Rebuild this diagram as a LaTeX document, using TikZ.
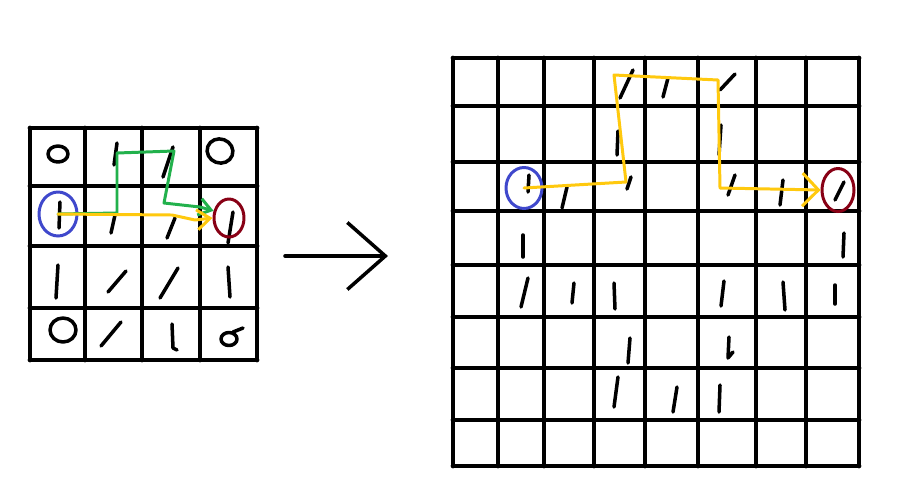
\documentclass[tikz,border=0pt]{standalone}
\usepackage{xcolor}
\usepackage{tikz}
\usetikzlibrary{arrows.meta,shapes.geometric}
\definecolor{skInk}{HTML}{000000}
\definecolor{skBlue}{HTML}{3F48CC}
\definecolor{skRed}{HTML}{880015}
\definecolor{skGreen}{HTML}{22B14C}
\definecolor{skGold}{HTML}{FFC90E}
\tikzset{
  % Grid lines (thick marker)
  gridline/.style={line width=2.7pt,color=skInk,line cap=round},
  % Hand strokes inside the cells
  pen/.style={line width=2pt,color=skInk,line cap=round,line join=round},
  % Start ring (blue)
  startring/.style={ellipse,draw=skBlue,line width=1.7pt,inner sep=0pt},
  % Goal ring (dark red)
  goalring/.style={ellipse,draw=skRed,line width=1.7pt,inner sep=0pt},
  % Routes
  route/.style={line width=1.7pt,line cap=round,line join=round},
  bigarr/.style={line width=2pt,color=skInk,line cap=round,
    -{Straight Barb[length=0.76cm,width=1.34cm]}},
}

\begin{document}
\begin{tikzpicture}[x=0.02cm,y=-0.02cm]
  \fill[white] (0,0) rectangle (909,501);
  \useasboundingbox (0,0) rectangle (909,501);

  % small 4x4 grid
  \foreach \gx in {30,85,142,200,257}
    \draw[gridline] (\gx,128) -- (\gx,360);
  \foreach \gy in {128,186,246,308,360}
    \draw[gridline] (30,\gy) -- (257,\gy);

  % large 8x8 grid
  \foreach \gx in {453,498,544,594,645,698,756,806,859}
    \draw[gridline] (\gx,58) -- (\gx,466);
  \foreach \gy in {58,106,162,211,265,317,368,420,466}
    \draw[gridline] (453,\gy) -- (859,\gy);

  % strokes of the small grid
  \foreach \ax/\ay/\bx/\by in {117/143/114/165, 173/147/163/177,
      60/202/59/228, 115/215/111/233, 175/218/167/238, 233/212/228/243,
      58/265/56/298, 126/271/108/292, 178/268/160/298, 228/267/230/297,
      121/322/101/346}
    \draw[pen] (\ax,\ay) -- (\bx,\by);
  \draw[pen] (172,324) -- (173,348) -- (177,350);
  \draw[pen] (58,154) ellipse [x radius=0.2cm,y radius=0.16cm];
  \draw[pen,rotate around={-20:(220,151)}] (220,151)
    ellipse [x radius=0.26cm,y radius=0.24cm];
  \draw[pen] (63,330) ellipse [x radius=0.26cm,y radius=0.24cm];
  \draw[pen] (229,339) ellipse [x radius=0.16cm,y radius=0.13cm];
  \draw[pen] (233,332) -- (243,328);

  % strokes of the large grid
  \foreach \ax/\ay/\bx/\by in {633/70/620/98, 668/78/663/97, 735/74/720/90,
      618/131/617/155, 721/125/719/155,
      529/175/528/192, 567/187/562/208, 631/177/627/189, 735/175/728/195,
      783/180/780/205, 844/182/835/200,
      523/235/523/257, 844/233/843/257,
      528/278/521/307, 574/283/572/303, 614/283/615/309, 724/281/721/306,
      783/282/785/310, 835/285/835/304,
      630/338/628/363, 618/377/614/407, 677/387/673/412, 720/385/719/412}
    \draw[pen] (\ax,\ay) -- (\bx,\by);
  \draw[pen] (729,337) -- (728,358) -- (733,352);

  % rings
  \node[startring,minimum width=0.76cm,minimum height=0.88cm] (lstart) at (58,214) {};
  \node[goalring,minimum width=0.6cm,minimum height=0.76cm] (lgoal) at (229,218) {};
  \node[startring,minimum width=0.72cm,minimum height=0.82cm] (rstart) at (524,188) {};
  \node[goalring,minimum width=0.64cm,minimum height=0.86cm] (rgoal) at (838,190) {};

  % routes
  \draw[route,skGreen,-{Straight Barb[length=0.24cm,width=0.34cm]}]
    (lstart.center) -- (117,213) -- (117,153) -- (174,151) -- (164,203)
    -- (200,207) -- (lgoal.155);
  \draw[route,skGold,-{Straight Barb[length=0.26cm,width=0.4cm]}]
    (lstart.center) -- (172,215) -- (195,220) -- (lgoal.west);
  \draw[route,skGold,-{Straight Barb[length=0.32cm,width=0.66cm]}]
    (rstart.center) -- (626,182) -- (614,75) -- (718,80) -- (720,188)
    -- (rgoal.west);

  % arrow between the grids
  \coordinate (gapl) at (285,256);
  \coordinate (gapr) at (388,256);
  \draw[bigarr] (gapl) -- (gapr);
\end{tikzpicture}
\end{document}
